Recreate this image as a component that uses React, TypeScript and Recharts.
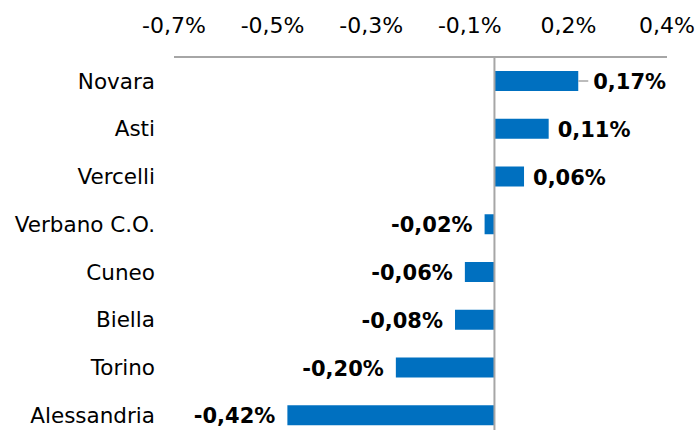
import React from 'react';
import { BarChart, Bar, XAxis, YAxis, ReferenceLine, LabelList } from 'recharts';

const categories = ['Novara', 'Asti', 'Vercelli', 'Verbano C.O.', 'Cuneo', 'Biella', 'Torino', 'Alessandria'];
const values = [0.17, 0.11, 0.06, -0.02, -0.06, -0.08, -0.2, -0.42];
const tickValues = [-0.65, -0.45, -0.25, -0.05, 0.15, 0.35];
const tickLabels = ['-0,7%', '-0,5%', '-0,3%', '-0,1%', '0,2%', '0,4%'];
const leaderCategory = 'Novara';

const data = categories.map((name, i) => ({ name, value: values[i] }));

const FONT = '"DejaVu Sans", Verdana, sans-serif';
const AXIS_COLOR = '#a6a6a6';
const BAR_COLOR = '#0070c0';

const fmt = (v: number) => v.toFixed(2).replace('.', ',') + '%';

const ValueLabel = (props: any) => {
  const { x, y, width, height, value, index } = props;
  const left = Math.min(x, x + width);
  const right = Math.max(x, x + width);
  const cy = y + height / 2 + 1;
  const isLeader = categories[index] === leaderCategory;
  if (value >= 0) {
    const off = isLeader ? 15 : 9;
    return (
      <g>
        {isLeader && (
          <line x1={right} y1={y + height / 2} x2={right + 10} y2={y + height / 2} stroke={AXIS_COLOR} strokeWidth={1.5} />
        )}
        <text x={right + off} y={cy} textAnchor="start" dominantBaseline="central" fontFamily={FONT} fontWeight="bold" fontSize={21} fill="#000">
          {fmt(value)}
        </text>
      </g>
    );
  }
  return (
    <text x={left - 12} y={cy} textAnchor="end" dominantBaseline="central" fontFamily={FONT} fontWeight="bold" fontSize={21} fill="#000">
      {fmt(value)}
    </text>
  );
};

export default function App() {
  return (
    <div style={{ position: 'absolute', left: 0, top: 0, background: '#fff' }}>
      <BarChart
        width={698}
        height={439}
        data={data}
        layout="vertical"
        margin={{ top: 0, right: 31, bottom: 0, left: 0 }}
        style={{ fontFamily: FONT }}
      >
        <XAxis
          type="number"
          orientation="top"
          domain={[-0.65, 0.35]}
          ticks={tickValues}
          interval={0}
          height={57}
          tickLine={false}
          tickSize={0}
          tickMargin={24}
          axisLine={{ stroke: AXIS_COLOR, strokeWidth: 2 }}
          tick={{ fill: '#000', fontSize: 22, fontFamily: FONT }}
          tickFormatter={(v: number) => tickLabels[tickValues.indexOf(v)]}
        />
        <YAxis
          type="category"
          dataKey="name"
          width={174}
          tickLine={false}
          tickSize={0}
          tickMargin={19}
          axisLine={false}
          interval={0}
          tick={{ fill: '#000', fontSize: 21.5, fontFamily: FONT }}
        />
        <ReferenceLine x={0} stroke={AXIS_COLOR} strokeWidth={2} />
        <Bar dataKey="value" fill={BAR_COLOR} barSize={20} isAnimationActive={false}>
          <LabelList dataKey="value" content={ValueLabel} />
        </Bar>
      </BarChart>
    </div>
  );
}
